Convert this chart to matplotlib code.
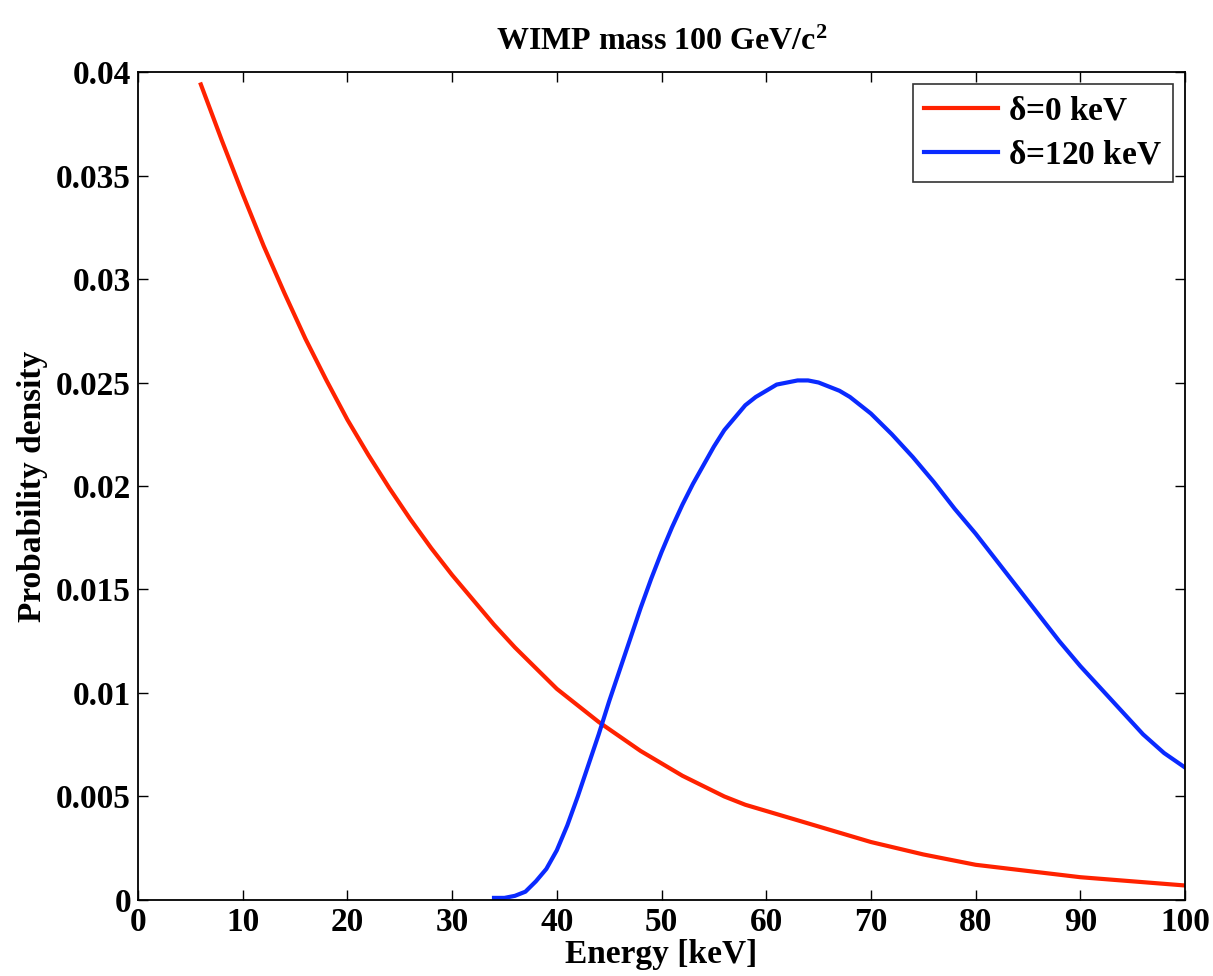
import numpy as np
import matplotlib
matplotlib.use('Agg')
import matplotlib.pyplot as plt

# red curve, delta = 0 keV
e_red = [6, 8, 10, 12, 14, 16, 18, 20, 22, 24, 26, 28, 30, 32, 34, 36, 38, 40,
         42, 44, 46, 48, 50, 52, 54, 56, 58, 60, 62, 64, 66, 68, 70, 75, 80, 85,
         90, 95, 100]
p_red = [0.0394, 0.0367, 0.0341, 0.0316, 0.0293, 0.0271, 0.0251, 0.0232, 0.0215,
         0.0199, 0.0184, 0.0170, 0.0157, 0.0145, 0.0133, 0.0122, 0.0112, 0.0102,
         0.0094, 0.0086, 0.0079, 0.0072, 0.0066, 0.0060, 0.0055, 0.0050, 0.0046,
         0.0043, 0.0040, 0.0037, 0.0034, 0.0031, 0.0028, 0.0022, 0.0017, 0.0014,
         0.0011, 0.0009, 0.0007]

# blue curve, delta = 120 keV
e_blue = [34, 35, 36, 37, 38, 39, 40, 41, 42, 43, 44, 45, 46, 47, 48, 49, 50, 51,
          52, 53, 54, 55, 56, 57, 58, 59, 60, 61, 62, 63, 64, 65, 66, 67, 68, 69,
          70, 72, 74, 76, 78, 80, 82, 84, 86, 88, 90, 92, 94, 96, 98, 100]
p_blue = [0.0001, 0.0001, 0.0002, 0.0004, 0.0009, 0.0015, 0.0024, 0.0036, 0.0050,
          0.0065, 0.0080, 0.0096, 0.0111, 0.0126, 0.0141, 0.0155, 0.0168, 0.0180,
          0.0191, 0.0201, 0.0210, 0.0219, 0.0227, 0.0233, 0.0239, 0.0243, 0.0246,
          0.0249, 0.0250, 0.0251, 0.0251, 0.0250, 0.0248, 0.0246, 0.0243, 0.0239,
          0.0235, 0.0225, 0.0214, 0.0202, 0.0189, 0.0177, 0.0164, 0.0151, 0.0138,
          0.0125, 0.0113, 0.0102, 0.0091, 0.0080, 0.0071, 0.0064]

labels = [r'$\delta$=0 keV', r'$\delta$=120 keV']
xticks = np.arange(0, 101, 10)
yticks = np.arange(0, 0.0401, 0.005)
ytick_labels = ['0', '0.005', '0.01', '0.015', '0.02', '0.025', '0.03', '0.035', '0.04']

plt.rcParams['font.family'] = 'Liberation Serif'
plt.rcParams['font.weight'] = 'bold'
plt.rcParams['mathtext.fontset'] = 'custom'
plt.rcParams['mathtext.rm'] = 'Liberation Serif:bold'
plt.rcParams['mathtext.it'] = 'Liberation Serif'
plt.rcParams['mathtext.bf'] = 'Liberation Serif:bold'

fig = plt.figure(figsize=(12.13, 9.76), dpi=100)
ax = fig.add_axes([0.1138, 0.0779, 0.8631, 0.8483])

ax.plot(e_red, p_red, color='#ff2200', lw=3.0, label=labels[0])
ax.plot(e_blue, p_blue, color='#0a2aff', lw=3.0, label=labels[1])

ax.set_xlim(0, 100)
ax.set_ylim(0, 0.04)
ax.set_xticks(xticks)
ax.set_yticks(yticks)
ax.set_yticklabels(ytick_labels)
ax.tick_params(direction='in', length=7, width=1, top=True, right=True,
               labelsize=24, pad=5)
for s in ax.spines.values():
    s.set_linewidth(1.3)

ax.set_title(r'WIMP mass 100 GeV/c$^\mathbf{2}$', fontsize=23, fontweight='bold', pad=16)
ax.set_xlabel('Energy [keV]', fontsize=24, fontweight='bold', labelpad=1)
ax.set_ylabel('Probability density', fontsize=24, fontweight='bold', labelpad=6)

leg = ax.legend(loc='upper right', fontsize=24, frameon=True, fancybox=False,
                edgecolor='black', handlelength=2.2, borderaxespad=0.35,
                handletextpad=0.3, borderpad=0.35, labelspacing=0.4)
leg.get_frame().set_linewidth(1.2)

plt.savefig('out.png', dpi=100)
